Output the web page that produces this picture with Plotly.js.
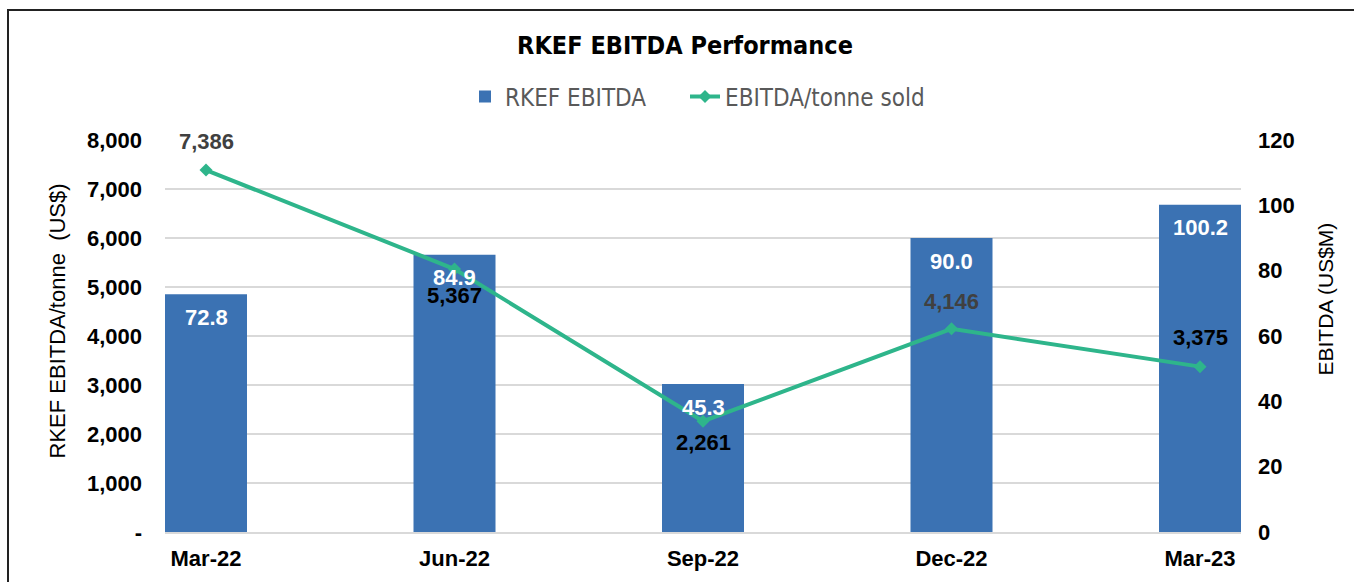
<!DOCTYPE html>
<html>
<head>
<meta charset="utf-8">
<script src="https://cdn.plot.ly/plotly-3.0.1.min.js"></script>
<style>
  body { margin: 0; background: #fff; }
  #chart { width: 1354px; height: 582px; }
  #frame { position: absolute; left: 7px; top: 9px; width: 1400px; height: 600px;
           border-left: 2px solid #222; border-top: 2px solid #222; pointer-events: none; }
</style>
</head>
<body>
<div id="chart"></div>
<div id="frame"></div>
<script>
const quarters = ["Mar-22", "Jun-22", "Sep-22", "Dec-22", "Mar-23"];
const ebitdaUSDm = [72.8, 84.9, 45.3, 90.0, 100.2];
const ebitdaPerTonne = [7386, 5367, 2261, 4146, 3375];
const leftTickVals = [0, 1000, 2000, 3000, 4000, 5000, 6000, 7000, 8000];
const leftTickText = ["-", "1,000", "2,000", "3,000", "4,000", "5,000", "6,000", "7,000", "8,000"];
const rightTickVals = [0, 20, 40, 60, 80, 100, 120];

const barColor = "#3b72b3";
const lineColor = "#2eb58b";
const bodyFont = "Liberation Sans, Arial, sans-serif";
const narrowFont = "Liberation Sans Narrow, DejaVu Sans Condensed, Arial Narrow, sans-serif";

const bars = {
  x: quarters,
  y: ebitdaUSDm,
  type: "bar",
  name: "RKEF EBITDA",
  yaxis: "y",
  legend: "legend",
  width: 0.33,
  marker: { color: barColor },
  hoverinfo: "x+y",
};

const line = {
  x: quarters,
  y: ebitdaPerTonne,
  type: "scatter",
  mode: "lines+markers",
  name: "EBITDA/tonne sold",
  yaxis: "y2",
  legend: "legend2",
  line: { color: lineColor, width: 4 },
  marker: { symbol: "diamond", size: 10, color: lineColor },
};

// label placement: above (+) or below (-) the point, and colour
const lineLabelShift = [29, -26, -21, 27, 29];
const lineLabelColor = ["#404040", "#000", "#000", "#404040", "#000"];

const annotations = [];
quarters.forEach((q, i) => {
  annotations.push({
    x: q, y: ebitdaUSDm[i], xref: "x", yref: "y",
    text: ebitdaUSDm[i].toFixed(1), showarrow: false, yshift: -23,
    font: { family: bodyFont, size: 22, color: "#fff", weight: "bold" },
  });
  annotations.push({
    x: q, y: ebitdaPerTonne[i], xref: "x", yref: "y2",
    text: ebitdaPerTonne[i].toLocaleString("en-US"), showarrow: false,
    yshift: lineLabelShift[i],
    font: { family: bodyFont, size: 22, color: lineLabelColor[i], weight: "bold" },
  });
});

annotations.push({
  text: "RKEF EBITDA/tonne  (US$)", xref: "paper", yref: "paper",
  x: (42 - 165) / 1076, y: (532 - 321) / 392, textangle: -90, showarrow: false,
  font: { family: bodyFont, size: 22, color: "#000" },
});
annotations.push({
  text: "EBITDA (US$M)", xref: "paper", yref: "paper",
  x: (1338 - 165) / 1076, y: (532 - 299) / 392, textangle: -90, showarrow: false,
  font: { family: bodyFont, size: 21, color: "#000" },
});

const legendFont = { family: narrowFont, size: 24, color: "#595959" };

const layout = {
  width: 1354,
  height: 582,
  margin: { l: 165, r: 113, t: 140, b: 50 },
  paper_bgcolor: "#fff",
  plot_bgcolor: "#fff",
  title: {
    text: "<b>RKEF EBITDA Performance</b>",
    xref: "container", x: 685 / 1354, xanchor: "center",
    yref: "container", y: 1 - 45 / 582, yanchor: "middle",
    font: { family: narrowFont, size: 25, color: "#000" },
  },
  showlegend: true,
  legend: {
    orientation: "h",
    xref: "container", x: 465 / 1354, xanchor: "left",
    yref: "container", y: 1 - 97 / 582, yanchor: "middle",
    font: legendFont,
  },
  legend2: {
    orientation: "h",
    xref: "container", x: 685 / 1354, xanchor: "left",
    yref: "container", y: 1 - 97 / 582, yanchor: "middle",
    font: legendFont,
  },
  xaxis: {
    type: "category",
    range: [-0.165, 4.165],
    showgrid: false,
    showline: true,
    linecolor: "#d9d9d9",
    linewidth: 2,
    ticks: "",
    ticklabelstandoff: 6,
    tickfont: { family: bodyFont, size: 22, color: "#000", weight: "bold" },
  },
  yaxis: {
    side: "right",
    range: [0, 120],
    tickvals: rightTickVals,
    showgrid: false,
    zeroline: false,
    ticklabelstandoff: 16,
    tickfont: { family: bodyFont, size: 22, color: "#000", weight: "bold" },
  },
  yaxis2: {
    overlaying: "y",
    side: "left",
    range: [0, 8000],
    tickvals: leftTickVals,
    ticktext: leftTickText,
    showgrid: true,
    gridcolor: "#d9d9d9",
    gridwidth: 2,
    zeroline: false,
    ticklabelstandoff: 22,
    tickfont: { family: bodyFont, size: 22, color: "#000", weight: "bold" },
  },
  annotations: annotations,
};

Plotly.newPlot("chart", [bars, line], layout, { displayModeBar: false });
</script>
</body>
</html>
